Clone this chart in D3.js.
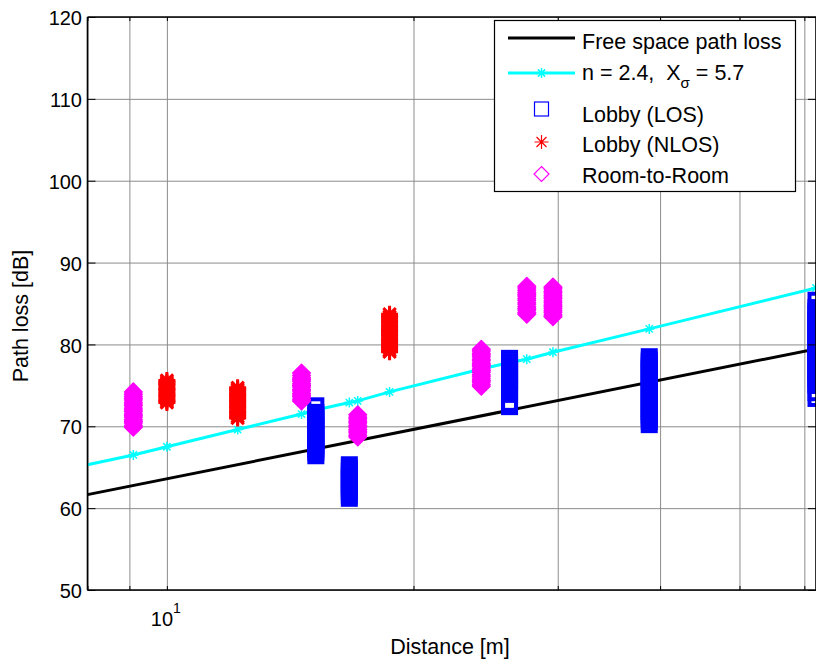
<!DOCTYPE html>
<html><head><meta charset="utf-8">
<script src="https://cdn.jsdelivr.net/npm/d3@7"></script>
<style>
body{margin:0;background:#fff;}
svg{display:block;font-family:"Liberation Sans",Arial,Helvetica,sans-serif;}
</style>
</head><body><svg id="c" width="816" height="663"></svg>
<script>
// ---------------- data ----------------
const xGrid = [8, 9, 10, 20, 30, 40, 50, 60];
const xTickLabels = [10];
const yTicks = [50, 60, 70, 80, 90, 100, 110, 120];

// free-space path loss line
const fsplDist = [8, 62];
const fsplLoss = [61.65, 79.45];

// fitted model line (n = 2.4) - first point is the left axis limit (no marker)
const modelDist = [8, 9.1, 10, 12.2, 14.6, 15.2, 16.7, 17.1, 18.7, 24.2, 26.2, 27.5, 29.6, 38.8, 62];
const modelLoss = [65.3, 66.5, 67.5, 69.6, 71.5, 72.0, 72.9, 73.1, 74.2, 77.0, 77.8, 78.2, 79.05, 81.9, 86.9];

// Lobby (LOS) measurements
const losDist = [15.2, 16.7, 26.2, 38.8, 62];
const losLoss = [
  [72.5,71.7,71.3,70.9,70.5,70.1,69.6,69.2,68.8,68.4,68.0,67.6,67.2,66.8,66.4],
  [61.2,61.6,62.0,62.4,62.9,63.3,63.7,64.1,64.5,64.9,65.3],
  [78.3,77.9,77.5,77.1,76.7,76.3,75.9,75.5,75.1,74.7,74.3,73.9,72.8,72.4],
  [70.2,70.6,71.0,71.4,71.8,72.2,72.6,73.0,73.4,73.8,74.2,74.6,75.0,75.4,75.8,76.2,76.6,77.0,77.4,77.8,78.1,78.5],
  [85.4,84.5,84.1,83.7,83.3,82.9,82.5,82.1,81.7,81.3,80.9,80.5,80.1,79.7,79.3,78.9,78.5,78.1,77.7,77.3,76.9,76.5,76.1,75.7,75.3,75.0,74.1,73.4]
];

// Lobby (NLOS) measurements
const nlosDist = [10, 12.2, 18.7];
const nlosLoss = [
  [72.9,73.1,73.3,73.6,73.8,74.0,74.3,74.5,74.7,75.0,75.2,75.4,75.6],
  [71.0,71.2,71.5,71.7,71.9,72.2,72.4,72.6,72.9,73.1,73.3,73.6,73.8,74.0,74.3,74.5,74.7],
  [79.1,79.3,79.6,79.8,80.0,80.3,80.5,80.7,81.0,81.2,81.5,81.7,81.9,82.2,82.4,82.7,82.9,83.2,83.4,83.7]
];

// Room-to-Room measurements
const roomDist = [9.1, 14.6, 17.1, 24.2, 27.5, 29.6];
const roomLoss = [
  [69.9,70.1,70.4,70.6,70.8,71.1,71.3,71.5,71.8,72.0,72.2,72.5,72.7,72.9,73.2,73.4,73.6,73.9,74.2],
  [73.1,73.3,73.6,73.8,74.0,74.3,74.5,74.8,75.0,75.2,75.5,75.7,75.9,76.2,76.5],
  [68.7,68.9,69.2,69.4,69.6,69.9,70.1,70.4,70.6,70.9,71.1,71.4],
  [74.9,75.1,75.4,75.6,75.8,76.1,76.3,76.6,76.8,77.0,77.3,77.5,77.7,78.0,78.2,78.5,78.7,78.9,79.2,79.4],
  [83.7,83.9,84.2,84.4,84.6,84.9,85.1,85.4,85.6,85.9,86.1,86.3,86.6,86.9,87.1],
  [83.4,83.6,83.9,84.1,84.4,84.6,84.8,85.1,85.3,85.6,85.8,86.0,86.3,86.5,86.8,87.0]
];

const legendItems = ["Free space path loss", "n = 2.4,  X", "Lobby (LOS)", "Lobby (NLOS)", "Room-to-Room"];

// ---------------- layout ----------------
const W = 816, H = 663;
const M = {left: 87.5, right: 816, top: 17, bottom: 590};
const x = d3.scaleLog().domain([8, 62]).range([M.left, M.right]);
const y = d3.scaleLinear().domain([50, 120]).range([M.bottom, M.top]);

const svg = d3.select('#c');
svg.append('rect').attr('width', W).attr('height', H).attr('fill', '#fff');

const GRID = '#8c8c8c';
// grid via axes
svg.append('g').attr('transform', `translate(0,${M.bottom})`)
  .call(d3.axisBottom(x).tickValues(xGrid).tickSize(-(M.bottom - M.top)).tickFormat(''))
  .call(g => { g.select('.domain').remove(); g.selectAll('line').attr('stroke', GRID).attr('stroke-width', 1); });
svg.append('g').attr('transform', `translate(${M.left},0)`)
  .call(d3.axisLeft(y).tickValues(yTicks).tickSize(-(M.right - M.left)).tickFormat(''))
  .call(g => { g.select('.domain').remove(); g.selectAll('line').attr('stroke', GRID).attr('stroke-width', 1); });

// clip for lines
svg.append('clipPath').attr('id', 'pc').append('rect')
  .attr('x', M.left).attr('y', M.top).attr('width', M.right - M.left).attr('height', M.bottom - M.top);

const lineGen = d3.line().x(p => x(p[0])).y(p => y(p[1]));
svg.append('path').attr('clip-path', 'url(#pc)')
  .attr('d', lineGen(fsplDist.map((d, i) => [d, fsplLoss[i]])))
  .attr('fill', 'none').attr('stroke', '#000').attr('stroke-width', 3);
svg.append('path').attr('clip-path', 'url(#pc)')
  .attr('d', lineGen(modelDist.map((d, i) => [d, modelLoss[i]])))
  .attr('fill', 'none').attr('stroke', '#00ffff').attr('stroke-width', 3);

const starSmall = 'M-5,0H5M0,-5V5M-3.6,-3.6L3.6,3.6M-3.6,3.6L3.6,-3.6';
svg.append('g').selectAll('path').data(modelDist.slice(1).map((d, i) => [d, modelLoss[i + 1]])).join('path')
  .attr('transform', p => `translate(${x(p[0])},${y(p[1])})`)
  .attr('d', starSmall).attr('fill', 'none').attr('stroke', '#00ffff').attr('stroke-width', 1.5);

function flatten(dists, losses) {
  const pts = [];
  dists.forEach((d, i) => losses[i].forEach(v => pts.push({d, v})));
  return pts;
}

// LOS squares
svg.append('g').selectAll('rect').data(flatten(losDist, losLoss)).join('rect')
  .attr('x', p => x(p.d) - 6.5).attr('y', p => y(p.v) - 6.5)
  .attr('width', 13).attr('height', 13)
  .attr('fill', 'none').attr('stroke', '#0000ff').attr('stroke-width', 4);

// NLOS asterisks
const star = 'M-8.5,0H8.5M0,-8.5V8.5M-6.2,-6.2L6.2,6.2M-6.2,6.2L6.2,-6.2';
svg.append('g').selectAll('path').data(flatten(nlosDist, nlosLoss)).join('path')
  .attr('transform', p => `translate(${x(p.d)},${y(p.v)})`)
  .attr('d', star).attr('fill', 'none').attr('stroke', '#ff0000').attr('stroke-width', 3);

// Room diamonds
const diamond = 'M0,-8.8L8.8,0L0,8.8L-8.8,0Z';
svg.append('g').selectAll('path').data(flatten(roomDist, roomLoss)).join('path')
  .attr('transform', p => `translate(${x(p.d)},${y(p.v)})`)
  .attr('d', diamond).attr('fill', '#ff00ff').attr('stroke', '#ff00ff').attr('stroke-width', 1.5)
  .attr('stroke-linejoin', 'round');

// ---------------- axes ----------------
svg.append('g').attr('transform', `translate(${M.left},0)`)
  .call(d3.axisLeft(y).tickValues(yTicks).tickSizeInner(-8).tickSizeOuter(0).tickPadding(5.5))
  .call(g => {
    g.select('.domain').remove();
    g.selectAll('line').attr('stroke', '#000').attr('stroke-width', 1);
    g.selectAll('text').attr('font-size', 20).attr('font-family', '"Liberation Sans",Arial,sans-serif').attr('fill', '#000').attr('dy', '0.38em');
  });
svg.append('g').attr('transform', `translate(${M.right},0)`)
  .call(d3.axisRight(y).tickValues(yTicks).tickSizeInner(-8).tickSizeOuter(0).tickFormat(''))
  .call(g => { g.select('.domain').remove(); g.selectAll('line').attr('stroke', '#000'); });
svg.append('g').attr('transform', `translate(0,${M.bottom})`)
  .call(d3.axisBottom(x).tickValues(xGrid).tickSizeInner(-4).tickSizeOuter(0).tickFormat(''))
  .call(g => { g.select('.domain').remove(); g.selectAll('line').attr('stroke', '#000'); });
svg.append('g').attr('transform', `translate(0,${M.top})`)
  .call(d3.axisTop(x).tickValues(xGrid).tickSizeInner(-4).tickSizeOuter(0).tickFormat(''))
  .call(g => { g.select('.domain').remove(); g.selectAll('line').attr('stroke', '#000'); });

const xl = svg.append('g').attr('transform', `translate(0,${M.bottom})`)
  .call(d3.axisBottom(x).tickValues(xTickLabels).tickSize(0).tickFormat(d => ''))
  .call(g => g.select('.domain').remove());
xl.selectAll('.tick text').each(function(d) {
  const t = d3.select(this);
  const e = Math.round(Math.log10(d));
  t.attr('y', 36).attr('dy', 0).attr('text-anchor', 'middle').attr('font-size', 20)
   .attr('font-family', '"Liberation Sans",Arial,sans-serif').attr('fill', '#000')
   .attr('x', -1.5);
  t.append('tspan').text('10');
  t.append('tspan').attr('font-size', 14).attr('dy', -13).text(String(e));
});

// box
const box = svg.append('g').attr('stroke', '#000').attr('stroke-width', 1.6);
box.append('line').attr('x1', M.left).attr('x2', M.left).attr('y1', M.top).attr('y2', M.bottom);
box.append('line').attr('x1', M.left).attr('x2', M.right).attr('y1', M.bottom).attr('y2', M.bottom);
box.append('line').attr('x1', M.left).attr('x2', M.right).attr('y1', M.top).attr('y2', M.top);
box.append('line').attr('x1', M.right).attr('x2', M.right).attr('y1', M.top).attr('y2', M.bottom);

// axis titles
svg.append('text').attr('x', 450).attr('y', 654).attr('text-anchor', 'middle')
  .attr('font-size', 21.5).attr('fill', '#000').text('Distance [m]');
svg.append('text').attr('transform', 'translate(28,316) rotate(-90)').attr('text-anchor', 'middle')
  .attr('font-size', 21.5).attr('fill', '#000').text('Path loss [dB]');

// ---------------- legend ----------------
const lg = svg.append('g');
lg.append('rect').attr('x', 494.5).attr('y', 20.5).attr('width', 301).attr('height', 171)
  .attr('fill', '#fff').attr('stroke', '#000').attr('stroke-width', 1.2);
const rowY = [38, 73, 109, 142, 174];
const baseY = [49, 80, 122, 152, 183];
const mx = 541.5, tx = 582;
lg.append('line').attr('x1', 508).attr('x2', 575).attr('y1', rowY[0]).attr('y2', rowY[0]).attr('stroke', '#000').attr('stroke-width', 3);
lg.append('line').attr('x1', 508).attr('x2', 575).attr('y1', rowY[1]).attr('y2', rowY[1]).attr('stroke', '#00ffff').attr('stroke-width', 3);
lg.append('path').attr('transform', `translate(${mx},${rowY[1]})`).attr('d', starSmall).attr('fill', 'none').attr('stroke', '#00ffff').attr('stroke-width', 1.5);
lg.append('rect').attr('x', mx - 7).attr('y', rowY[2] - 7).attr('width', 14).attr('height', 14).attr('fill', 'none').attr('stroke', '#0000ff').attr('stroke-width', 1.2);
lg.append('path').attr('transform', `translate(${mx},${rowY[3]})`).attr('d', 'M-7,0H7M0,-7V7M-5,-5L5,5M-5,5L5,-5').attr('fill', 'none').attr('stroke', '#ff0000').attr('stroke-width', 1.2);
lg.append('path').attr('transform', `translate(${mx},${rowY[4]})`).attr('d', 'M0,-7.5L7.5,0L0,7.5L-7.5,0Z').attr('fill', 'none').attr('stroke', '#ff00ff').attr('stroke-width', 1.2);

legendItems.forEach((s, i) => {
  const t = lg.append('text').attr('x', tx).attr('y', baseY[i]).attr('font-size', 21.5).attr('fill', '#000').style('white-space', 'pre');
  t.append('tspan').text(s);
  if (i === 1) {
    t.append('tspan').attr('font-size', 15).attr('dy', 8).text('σ');
    t.append('tspan').attr('dy', -8).text(' = 5.7');
  }
});
</script></body></html>
